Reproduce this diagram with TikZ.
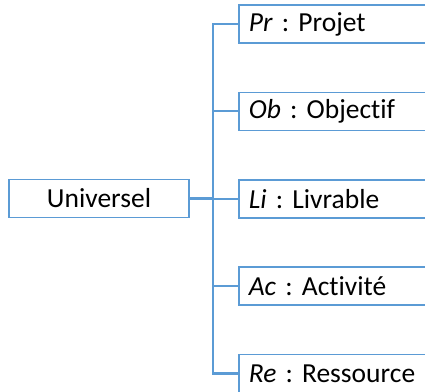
\documentclass[tikz,border=0pt]{standalone}
\usepackage{fontspec}
\setmainfont[Ligatures=NoCommon]{Carlito}
\usepackage{tikz}
\usetikzlibrary{positioning}
\definecolor{boxblue}{RGB}{91,155,213}
\frenchspacing

\begin{document}
\begin{tikzpicture}[
    x=0.5pt, y=-0.5pt,
    every node/.style={font=\fontsize{13.75}{16}\selectfont},
    root/.style={rectangle, draw=boxblue, line width=0.8pt,
                 minimum width=90pt, minimum height=19pt, inner sep=0pt},
    leaf/.style={rectangle, draw=boxblue, line width=0.8pt, anchor=west,
                 minimum height=19pt, text width=96pt, inner xsep=5pt,
                 inner ysep=0pt, align=left},
    link/.style={draw=boxblue, line width=1.1pt}
]
    \useasboundingbox (0,0) rectangle (425,392);
    \clip (0,0) rectangle (425,392);
    \node[root] (u) at (99,198.5) {Universel};
    \coordinate (t) at (213,198.5);
    \node[leaf] (pr) at (238,24) {\textit{Pr} : Projet};
    \node[leaf] (ob) at (238,111.3) {\textit{Ob} : Objectif};
    \node[leaf] (li) at (238,198.8) {\textit{Li} : Livrable};
    \node[leaf] (ac) at (238,286.2) {\textit{Ac} : Activité};
    \node[leaf] (re) at (238,373.5) {\textit{Re} : Ressource};
    \draw[link] (u) -- (t);
    \foreach \n in {pr,ob,li,ac,re} \draw[link] (t) |- (\n.west);
\end{tikzpicture}
\end{document}
